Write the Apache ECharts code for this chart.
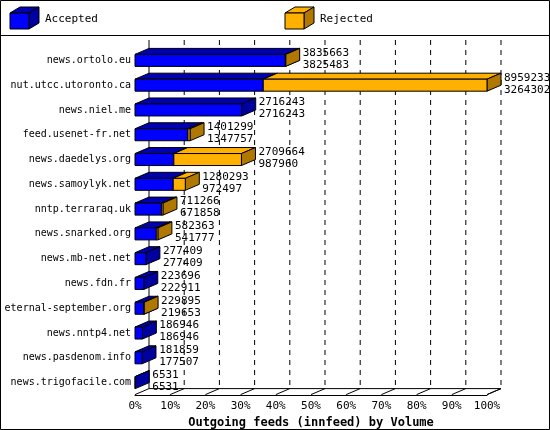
<!DOCTYPE html>
<html><head><meta charset="utf-8">
<script src="https://cdn.jsdelivr.net/npm/echarts@6/dist/echarts.min.js"></script>
<style>html,body{margin:0;padding:0;background:#fff}#c{width:550px;height:430px}</style>
</head><body><div id="c"></div>
<script>
var hosts = ["news.ortolo.eu","nut.utcc.utoronto.ca","news.niel.me","feed.usenet-fr.net","news.daedelys.org","news.samoylyk.net","nntp.terraraq.uk","news.snarked.org","news.mb-net.net","news.fdn.fr","eternal-september.org","news.nntp4.net","news.pasdenom.info","news.trigofacile.com"];
var offered = [3835663,8959233,2716243,1401299,2709664,1280293,711266,582363,277409,223696,229895,186946,181859,6531];
var accepted = [3825483,3264302,2716243,1347757,987960,972497,671858,541777,277409,222911,219653,186946,177507,6531];
var maxV = 8959233;

var myChart = echarts.init(document.getElementById("c"));
var DX = 14, DY = -6, FONT = "11px 'DejaVu Sans Mono', monospace";

function box(x0, x1, y, h, front, top, side, dx, dy) {
    dx = dx || DX; dy = dy || DY;
    var ys = y - h / 2, ye = y + h / 2;
    return [
        { type: "polygon", shape: { points: [[x0, ys], [x0 + dx, ys + dy], [x1 + dx, ys + dy], [x1, ys]] }, style: { fill: top, stroke: "#000", lineWidth: 1 } },
        { type: "polygon", shape: { points: [[x1, ys], [x1 + dx, ys + dy], [x1 + dx, ye + dy], [x1, ye]] }, style: { fill: side, stroke: "#000", lineWidth: 1 } },
        { type: "rect", shape: { x: x0, y: ys, width: x1 - x0, height: h }, style: { fill: front, stroke: "#000", lineWidth: 1 } }
    ];
}

var ticks = [];
for (var i = 0; i <= 10; i++) ticks.push(maxV * i / 10);

var option = {
    animation: false,
    grid: { left: 135, right: 63, top: 48, bottom: 35, containLabel: false, outerBoundsMode: "none" },
    xAxis: {
        type: "value", min: 0, max: maxV, interval: maxV / 10,
        axisLine: { show: true, lineStyle: { color: "#000" } },
        axisTick: { show: false },
        splitLine: { show: false },
        axisLabel: { color: "#000", fontFamily: "DejaVu Sans Mono", fontSize: 11, margin: 6,
            formatter: function (v) { return Math.round(v / maxV * 100) + "%"; } },
        name: "Outgoing feeds (innfeed) by Volume", nameLocation: "middle", nameGap: 22,
        nameTextStyle: { color: "#000", fontFamily: "DejaVu Sans Mono", fontSize: 12, fontWeight: "bold" }
    },
    yAxis: {
        type: "category", data: hosts, inverse: true,
        axisLine: { show: false }, axisTick: { show: false },
        axisLabel: { color: "#000", fontFamily: "DejaVu Sans Mono", fontSize: 10, margin: 4 }
    },
    graphic: [
        { type: "rect", shape: { x: 0.5, y: 0.5, width: 549, height: 429 }, style: { fill: null, stroke: "#000" } },
        { type: "line", shape: { x1: 0, y1: 35.5, x2: 550, y2: 35.5 }, style: { stroke: "#000" } },
        { type: "group", children: box(10, 29, 21, 16, "#0000ff", "#0000b0", "#0000a0", 10, -6) },
        { type: "text", x: 45, y: 14, style: { text: "Accepted", font: FONT, fill: "#000" } },
        { type: "group", children: box(285, 304, 21, 16, "#ffb000", "#ffb000", "#b07800", 10, -6) },
        { type: "text", x: 320, y: 14, style: { text: "Rejected", font: FONT, fill: "#000" } }
    ],
    series: [
        {
            type: "custom", z: 1, silent: true,
            data: ticks,
            renderItem: function (params, api) {
                var p = api.coord([api.value(0), hosts[0]]);
                var q = api.coord([api.value(0), hosts[hosts.length - 1]]);
                var x = p[0], top = 40, floor = q[1] + 6;
                var ch = [
                    { type: "line", shape: { x1: x, y1: floor + 6, x2: x + DX, y2: floor + DY + 6 }, style: { stroke: "#000", lineWidth: 1 } },
                    { type: "line", shape: { x1: x + DX, y1: top, x2: x + DX, y2: floor + DY + 6 },
                      style: { stroke: "#000", lineWidth: 1, lineDash: params.dataIndex === 0 ? null : [5, 5] } }
                ];
                if (params.dataIndex === 0) {
                    var r = api.coord([maxV, hosts[0]])[0];
                    ch.push({ type: "line", shape: { x1: x + DX, y1: floor + DY + 6, x2: r + DX, y2: floor + DY + 6 }, style: { stroke: "#000" } });
                    ch.push({ type: "line", shape: { x1: r, y1: floor + 6, x2: r + DX, y2: floor + DY + 6 }, style: { stroke: "#000" } });
                }
                return { type: "group", children: ch };
            }
        },
        {
            type: "custom", z: 2, silent: true,
            data: hosts.map(function (h, i) { return [accepted[i], offered[i], i]; }),
            renderItem: function (params, api) {
                var i = api.value(2);
                var a = api.coord([api.value(0), i]);
                var o = api.coord([api.value(1), i]);
                var z0 = api.coord([0, i]);
                var y = a[1], h = 12;
                var ch = [];
                ch = ch.concat(box(z0[0], a[0], y, h, "#0000ff", "#0000b0", "#0000a0"));
                if (o[0] - a[0] > 0.3) ch = ch.concat(box(a[0], o[0], y, h, "#ffb000", "#ffb000", "#b07800"));
                var tx = o[0] + DX + 3;
                ch.push({ type: "text", x: tx, y: y - 13, style: { text: String(offered[i]), font: FONT, fill: "#000" } });
                ch.push({ type: "text", x: tx, y: y - 1, style: { text: String(accepted[i]), font: FONT, fill: "#000" } });
                return { type: "group", children: ch };
            }
        }
    ]
};
myChart.setOption(option);
</script></body></html>
